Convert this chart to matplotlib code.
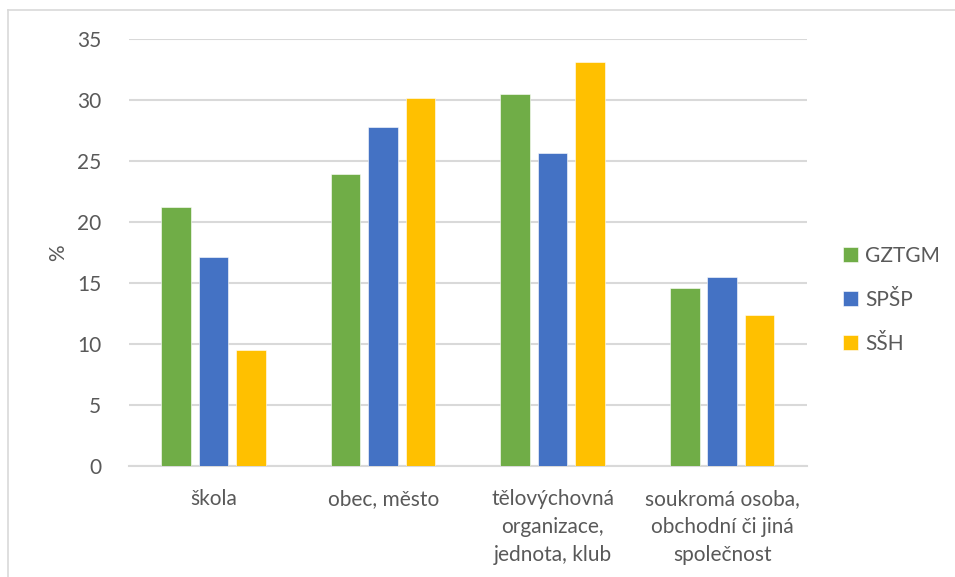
import numpy as np
import matplotlib.pyplot as plt
from matplotlib.lines import Line2D

categories = ["škola", "obec, město", "tělovýchovná\norganizace,\njednota, klub",
              "soukromá osoba,\nobchodní či jiná\nspolečnost"]
series_names = ["GZTGM", "SPŠP", "SŠH"]
gztgm = [21.2, 23.9, 30.5, 14.6]
spsp = [17.1, 27.8, 25.7, 15.5]
ssh = [9.5, 30.2, 33.1, 12.4]
colors = ["#70AD47", "#4472C4", "#FFC000"]

plt.rcParams['font.family'] = ['Lato', 'DejaVu Sans']
fs = 15

fig = plt.figure(figsize=(9.55, 5.77), dpi=100)
ax = fig.add_axes([0.135, 0.193, 0.71, 0.739])

x = np.arange(len(categories))
width = 0.174
step = 0.221
for i, (vals, name) in enumerate(zip([gztgm, spsp, ssh], series_names)):
    ax.bar(x + (i - 1) * step, vals, width, color=colors[i], label=name,
           edgecolor="white", linewidth=0.4, zorder=3)

ax.set_xlim(-0.5, len(categories) - 0.5)
ax.set_ylim(0, 35)
ax.set_yticks(np.arange(0, 36, 5))
ax.set_xticks(x)
ax.set_xticklabels(categories, fontsize=fs, color="#595959", linespacing=1.5)
ax.tick_params(axis="y", labelsize=fs, labelcolor="#595959", length=0, pad=20)
ax.tick_params(axis="x", length=0, pad=17)
ax.grid(axis="y", color="#d9d9d9", linewidth=1.5, zorder=0)
for s in ["top", "right", "left"]:
    ax.spines[s].set_visible(False)
ax.spines["bottom"].set_color("#d9d9d9")
ax.spines["bottom"].set_linewidth(1.5)
ax.set_ylabel("%", fontsize=fs, color="#595959", labelpad=6)

leg = fig.legend(loc="center left", bbox_to_anchor=(843 / 955, 1 - 300 / 577),
                 frameon=False, fontsize=fs, handlelength=0.7, handleheight=0.7,
                 handletextpad=0.35, labelspacing=1.15, borderaxespad=0, borderpad=0)
for t in leg.get_texts():
    t.set_color("#595959")

# chart frame
fig.add_artist(Line2D([8 / 955, 8 / 955], [0, 1 - 10 / 577], transform=fig.transFigure,
                      color="#d9d9d9", linewidth=1.2))
fig.add_artist(Line2D([8 / 955, 1], [1 - 10 / 577, 1 - 10 / 577], transform=fig.transFigure,
                      color="#d9d9d9", linewidth=1.2))

fig.savefig("out.png", dpi=100)
